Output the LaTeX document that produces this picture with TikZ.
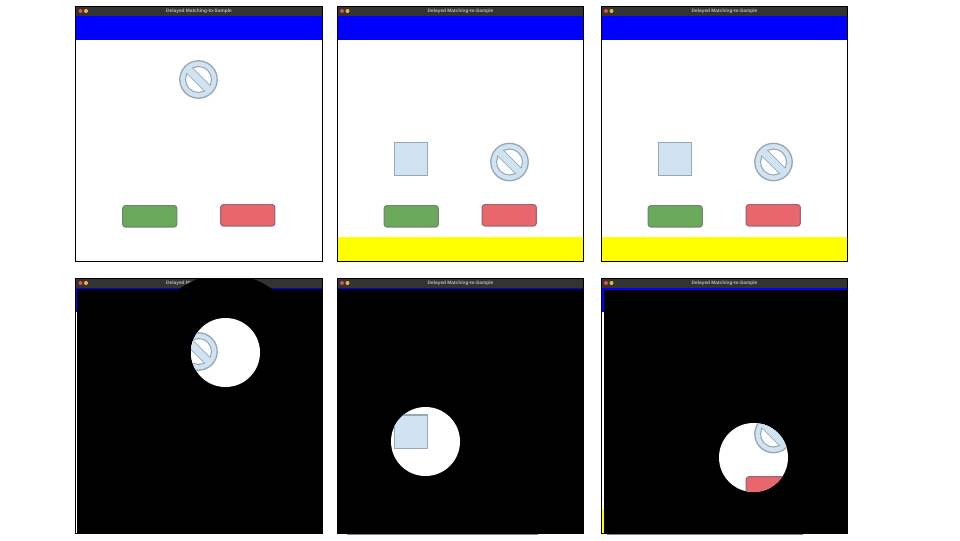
\documentclass[tikz,border=0pt]{standalone}
\usepackage{fontspec}
\setmainfont{Liberation Sans}
\definecolor{stimblue}{HTML}{CFE3F1}
\definecolor{stimedge}{HTML}{97A9B8}
\definecolor{barblack}{HTML}{333333}
\definecolor{purewhite}{HTML}{FFFFFF}
\definecolor{pureblue}{HTML}{0000FF}
\definecolor{pureyellow}{HTML}{FFFF00}
\definecolor{dotred}{HTML}{E0504C}
\definecolor{dotyellow}{HTML}{F2B82E}
\definecolor{btngreen}{HTML}{6BA95A}
\definecolor{btngreenedge}{HTML}{6F8A6C}
\definecolor{btnred}{HTML}{E9666C}
\definecolor{btnrededge}{HTML}{A0686E}
\definecolor{titlegrey}{HTML}{B8B8B8}
\definecolor{stripgrey}{HTML}{808080}
\tikzset{
	titletext/.style={text=titlegrey,inner sep=0pt,font=\fontsize{3.6}{4}\selectfont\bfseries},
	stimsquare/.style={draw=stimedge,fill=stimblue,line width=1pt,minimum size=25pt,inner sep=0pt,outer sep=0pt},
	greenbtn/.style={draw=btngreenedge,fill=btngreen,line width=.9pt,rounded corners=2pt,minimum width=40.5pt,minimum height=16pt,inner sep=0pt,outer sep=0pt},
	redbtn/.style={draw=btnrededge,fill=btnred,line width=.9pt,rounded corners=2pt,minimum width=40.5pt,minimum height=16pt,inner sep=0pt,outer sep=0pt},
	stopsign/.pic={
		\draw[stimedge,fill=stimblue,line width=1pt] (0,0) circle (18.7);
		\draw[stimedge,fill=purewhite,line width=.8pt] (0,0) circle (13);
		\begin{scope}
			\clip (0,0) circle (13.6);
			\draw[stimedge,fill=stimblue,line width=.8pt,rotate=-45] (-16,-3.8) rectangle (16,3.8);
			\fill[stimblue,rotate=-45] (-16,-3.4) rectangle (16,3.4);
		\end{scope}
	},
	x=.75pt,y=-.75pt
}
\begin{document}
\begin{tikzpicture}
	\useasboundingbox (0,0) rectangle (960,540);
	% windows
	\foreach \wx/\wy/\wn in {75.5/6/a,337/6/b,601/6/c,75.5/278/d,337/278/e,601/278/f}{
		\fill[purewhite] (\wx,\wy) rectangle ++(246.7,255.5);
		\fill[barblack] (\wx,\wy) rectangle ++(246.7,9.5);
		\fill[pureblue] (\wx,\wy+9.5) rectangle ++(246.7,24.5);
		\fill[dotred] (\wx+5,\wy+5) circle (2);
		\fill[dotyellow] (\wx+10.5,\wy+5) circle (2);
		\node[titletext] (title\wn) at (\wx+123.5,\wy+5.7) {Delayed Matching-to-Sample};
	}
	% yellow bars
	\foreach \wx in {337,601}{
		\fill[pureyellow] (\wx,237) rectangle ++(246.7,24.5);
		\fill[pureyellow] (\wx,509) rectangle ++(246.7,24.5);
	}
	% top row
	\pic at (198.5,79.5) {stopsign};
	\node[greenbtn] (greena) at (149.8,216.3) {};
	\node[redbtn] (reda) at (247.8,215.3) {};
	\node[stimsquare] (squareb) at (411,159) {};
	\pic at (509.5,162) {stopsign};
	\node[greenbtn] (greenb) at (411.2,216.3) {};
	\node[redbtn] (redb) at (509.2,215.3) {};
	\node[stimsquare] (squarec) at (675,159) {};
	\pic at (773.5,162) {stopsign};
	\node[greenbtn] (greenc) at (675.2,216.3) {};
	\node[redbtn] (redc) at (773.2,215.3) {};
	% masks
	\begin{scope}
		\clip (75.5,278) rectangle ++(246.7,255.5);
		\fill[black] (77,288.7) rectangle (323,534);
		\fill[pureblue] (181,288) rectangle (268,291.5);
		\fill[black] (225.5,353) circle (79);
		\fill[purewhite] (225.5,352.5) circle (34.5);
		\clip (225.5,352.5) circle (34.5);
		\pic at (198.5,351.5) {stopsign};
	\end{scope}
	\begin{scope}
		\clip (337,278) rectangle ++(246.7,255.5);
		\fill[black] (338.2,288.9) rectangle (582.6,534);
		\fill[purewhite] (425.5,441.5) circle (34.5);
		\clip (425.5,441.5) circle (34.5);
		\node[stimsquare] (squaree) at (411,431.5) {};
	\end{scope}
	\begin{scope}
		\clip (601,278) rectangle ++(246.7,255.5);
		\fill[black] (603.5,289.5) rectangle (848,534);
		\fill[purewhite] (753.5,457.5) circle (34.5);
		\clip (753.5,457.5) circle (34.5);
		\pic at (773.5,434) {stopsign};
		\node[redbtn] (redf) at (773.2,487.5) {};
	\end{scope}
	% frames
	\foreach \wx/\wy in {75.5/6,337/6,601/6,75.5/278,337/278,601/278}{
		\draw[black,line width=.75pt] (\wx,\wy) rectangle ++(246.7,255.5);
	}
	\draw[stripgrey,line width=.4pt] (347,533.8) -- (538,533.8);
	\draw[stripgrey,line width=.4pt] (607,533.8) -- (803,533.8);
\end{tikzpicture}
\end{document}
